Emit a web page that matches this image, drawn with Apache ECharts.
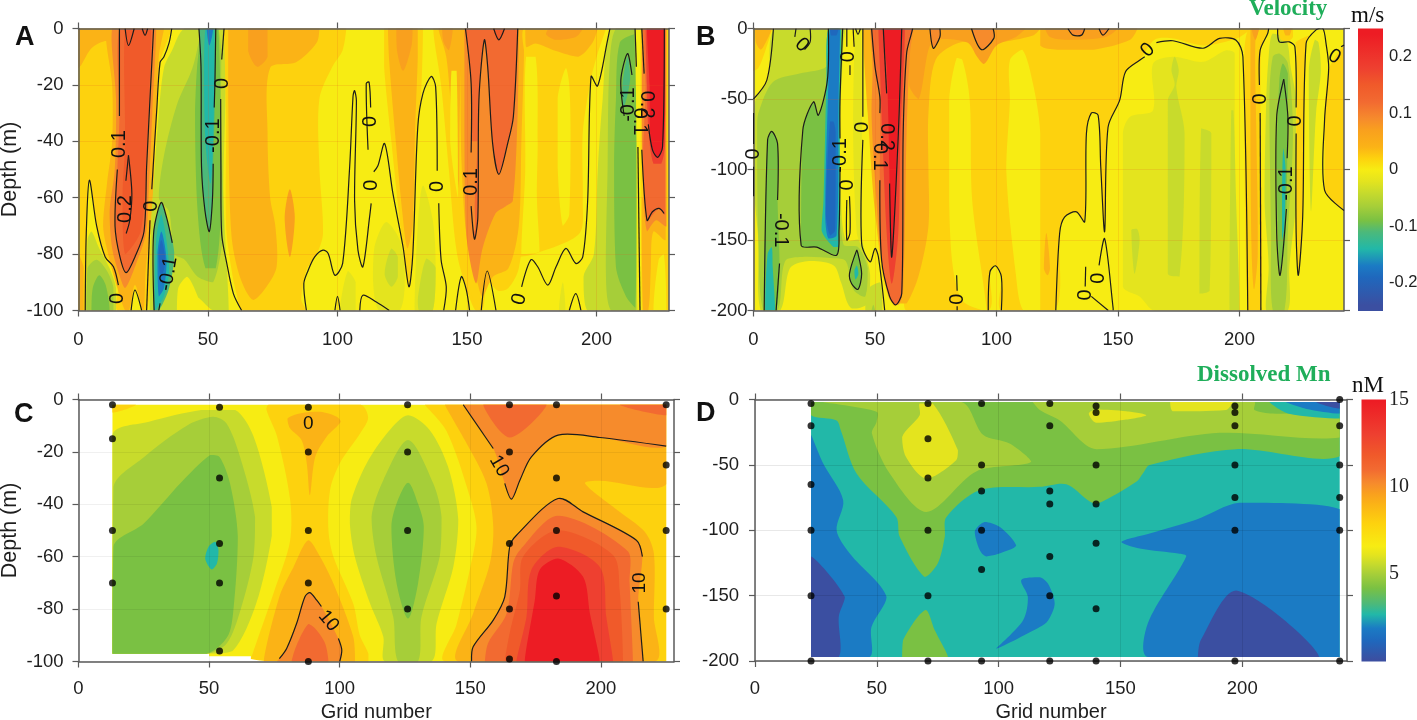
<!DOCTYPE html>
<html>
<head>
<meta charset="utf-8">
<script src="https://cdn.jsdelivr.net/npm/echarts@6/dist/echarts.min.js"></script>
<style>html,body{margin:0;padding:0;background:#fff}#main{width:1417px;height:720px}</style>
</head>
<body>
<div id="main"></div>
<script>
// shared colour ramp and the value each colour stands for
const rampColors = ['#3b4fa1','#1f68bd','#1b7bc4','#22b8a8','#4cb97a','#7ac143','#a6ce39','#c8db2c','#e4e41e','#f7ec13','#fdd20e','#fbb316','#f9a01e','#f68b2c','#f26a31','#f05a2a','#ee4030','#ed1c24'];
const velocityLevels = [-0.24,-0.19,-0.17,-0.14,-0.11,-0.09,-0.065,-0.04,-0.02,0,0.02,0.04,0.07,0.09,0.12,0.15,0.18,0.24];
const mnLevels = [0.1,1.2,1.9,2.7,3.3,4.2,5,5.6,6.1,6.6,7.9,9,9.6,10.2,11,11.8,13,14.9];

const velocityTicks = [-0.2,-0.1,0,0.1,0.2];
const mnTicks = [5,10,15];
const gridTicks = [0,50,100,150,200];

// panel A: filled bands painted in order, [level, outline in (grid number, depth)]
const panelABands = [
  [0, [[0,0],[228,0],[228,-100],[0,-100]]],
  [0.02, [[0,0],[36,0],[31.5,-12],[30,-29],[28.3,-57],[27.6,-68],[26.3,-100],[15,-100],[15.4,-91],[13.5,-84.5],[10.3,-81],[7,-70],[4.2,-53.8],[3,-72.7],[2.6,-100],[0,-100]]],
  [0, [[20.3,-100],[21.8,-92.8],[24.4,-100]]],
  [0.04, [[0,0],[15,0],[14,-5],[10,-4.5],[5,-7],[1,-13],[0,-14]]],
  [0.04, [[0,-80],[2,-85],[2,-100],[0,-100]]],
  [-0.04, [[3.5,-75],[5,-72],[8,-78],[12,-85],[14.5,-92],[14.5,-100],[3,-100]]],
  [-0.065, [[3.5,-85],[7,-82],[11,-86],[13.5,-92],[13.5,-100],[3,-100]]],
  [-0.09, [[5,-100],[5.5,-92],[8,-87.5],[10.5,-91],[12,-100]]],
  [0.04, [[11,0],[13,-20],[13,-40],[11,-55],[9.5,-70],[12,-82],[15,-92],[18,-100],[19.5,-100],[21.8,-91],[25,-100],[26,-85],[28,-70],[29,-55],[30,-30],[31,-10],[33,0]]],
  [0.09, [[13,0],[14.5,-25],[14,-50],[12,-65],[13,-78],[16,-88],[18,-92],[22,-84],[26,-73],[27,-60],[28.5,-30],[30,0]]],
  [0.12, [[15.8,0],[15.8,-31],[15,-50],[14.1,-70],[16,-81],[18.4,-86.6],[21.8,-81],[25.3,-72],[26.3,-49],[28.7,-5.3],[29,0]]],
  [0.15, [[18,0],[18,-40],[17,-60],[18,-80],[24,-72],[26,-50],[28,0]]],
  [-0.04, [[41,0],[36,-8],[33,-14],[31,-30],[29,-55],[28,-70],[27.5,-100],[40,-100],[45,-95],[52,-100],[58,-100],[57,-80],[56,-60],[56,0]]],
  [0, [[38,-100],[38.5,-92],[42,-88],[47,-97],[48,-100]]],
  [-0.065, [[47,-2],[44,-14],[38,-27],[33,-45],[31,-60],[35,-65],[37,-80],[41,-82],[46,-88],[52,-90],[56,-70],[55,-30],[54,0],[47,0]]],
  [-0.09, [[48,0],[45,-30],[46,-65],[49,-85],[53,-85],[55,-60],[54,0]]],
  [-0.11, [[46.5,0],[47.3,-13.6],[47.5,-49],[48.8,-64.4],[50.5,-72],[51.7,-61],[52,-48],[52.7,-25],[53,0]]],
  [-0.14, [[49,0],[48.5,-15],[49,-40],[51,-55],[52,-40],[52.5,-15],[52.5,0]]],
  [-0.17, [[49.5,0],[50.5,-6],[52,0]]],
  [-0.11, [[29,-100],[29,-72],[32,-62],[34,-67],[37,-80],[35,-92],[31,-100]]],
  [-0.14, [[29.5,-100],[30,-75],[32,-66],[35,-85],[33,-95]]],
  [-0.17, [[31,-95],[30.5,-80],[32,-72],[34,-82],[33,-92]]],
  [-0.19, [[31.5,-87],[31,-80],[32,-75],[33.5,-82],[32.5,-87]]],
  [0.02, [[56.2,0],[103.4,0],[102,-7.7],[98,-13.6],[93,-25],[93,-49],[94.4,-72.7],[92,-80],[88,-85.7],[86,-96],[87.4,-100],[63.5,-100],[61,-94],[59,-85],[57,-70],[57,-30]]],
  [0.04, [[57.8,0],[93,0],[92,-5],[84,-12],[74,-14],[73,-37],[74,-60],[76,-70],[76.5,-84.5],[72.6,-91.6],[67.5,-96.3],[62.3,-88],[59,-72.7],[57.8,-25]]],
  [0.07, [[65.5,0],[73,0],[73,-10],[69,-13.6],[65.5,-8]]],
  [0.07, [[81.6,-57],[83.5,-67],[81.6,-81],[79.6,-67]]],
  [0.02, [[118,0],[118,-13.6],[120.8,-40],[124.6,-72.7],[127.6,-91.6],[129,-80],[131,-35],[132.3,-23],[133,0]]],
  [0.04, [[119.5,0],[120,-12],[122.5,-40],[125,-65],[127,-78],[129,-70],[130,-35],[131,-10],[131,0]]],
  [0.07, [[122.7,0],[123,-8],[125.3,-15],[128.5,-6.5],[129,0]]],
  [-0.02, [[118.8,-68.6],[114.3,-77.4],[113.7,-89],[116,-100],[124,-100],[126,-88],[124,-75]]],
  [-0.04, [[120.8,-78],[118.2,-87],[120.8,-91.6],[123.3,-88],[123.3,-81]]],
  [-0.02, [[133,-55.7],[131,-70],[129.8,-100],[136.8,-100],[137.9,-84.5],[136.8,-68]]],
  [-0.04, [[134.3,-81.6],[131,-96],[131.5,-100],[136.8,-100],[137.9,-85]]],
  [-0.02, [[104,-86],[107,-90],[107,-100],[101,-100]]],
  [0.02, [[137,0],[148,0],[148,-50],[150,-72],[155,-92],[153.5,-100],[150,-93],[146,-79],[143,-50],[140,-20]]],
  [0.04, [[139,0],[150,0],[149,-30],[150,-60],[153,-85],[150,-75],[146,-50],[144,-30],[142,-10]]],
  [0.07, [[140.4,0],[144.5,0],[143,-7.7],[141,-5]]],
  [0, [[144,-15],[146,-15],[146.5,-60],[143.5,-40]]],
  [0.02, [[147,-60],[150,-85],[153.5,-100],[156,-100],[158,-90],[162,-93],[166,-92],[170,-85],[173,-60],[173,0],[149,0]]],
  [0.04, [[149,0],[172,0],[172,-10],[171,-40],[170,-70],[166,-85],[160,-88],[156,-95],[154,-90],[150,-75],[148,-50],[147.5,-20]]],
  [0.09, [[149,0],[149,-37],[149.7,-72.7],[153.5,-90.4],[156,-78],[161,-65.6],[165,-63],[167.7,-61],[169.6,-29],[170,0]]],
  [0.12, [[149.4,0],[151.6,-19.5],[151.6,-63],[152.9,-74.7],[154.2,-66.8],[154.6,-25.4],[156.7,-4],[158,-13.6],[159.9,-40.8],[162.3,-51.7],[165.7,-40.8],[167.9,-31.3],[169.6,0]]],
  [0.09, [[154,-40],[153,-62],[153,-72],[150.5,-65],[150.5,-40]]],
  [0.15, [[160.3,0],[162.3,-4],[164.5,0]]],
  [0.02, [[172,0],[203.6,0],[200.4,-9],[197.9,-17.7],[194.7,-37],[194.7,-61],[193.4,-72.7],[176.6,-79.8],[170.2,-81],[172,-61],[172.8,-13.6]]],
  [0, [[172.8,-10],[176.5,-10],[177.3,-40],[177,-60],[178,-79],[171,-80],[172.5,-50]]],
  [0, [[188.2,-14],[185,-25],[185,-49],[187,-70],[189.5,-66],[190,-37],[189.5,-20]]],
  [0.04, [[172.5,0],[200.4,0],[198.5,-5],[193,-10],[184.4,-8],[176.5,-5.3],[172.8,-6.5]]],
  [0.07, [[181.8,0],[194.7,0],[192,-3],[184.4,-4],[180.5,-2]]],
  [-0.02, [[187,-90],[185.5,-100],[188,-100]]],
  [-0.04, [[205.6,0],[202.4,-25],[200.5,-50],[199,-80],[195,-88],[196.6,-100],[216.5,-100],[216.5,-60],[215,-20],[215,0]]],
  [-0.065, [[207.5,0],[205,-13.6],[204.3,-49],[203.6,-84.5],[205.6,-100],[215.2,-100],[215.6,-39],[214.9,0]]],
  [-0.09, [[209,-5],[207.5,-25.4],[206.8,-49],[207.5,-84.5],[211.4,-95],[215,-99],[215.5,-61],[214.6,-2]]],
  [-0.11, [[212,-10],[213,-18],[210.5,-28],[210,-20]]],
  [0, [[215,0],[217.5,0],[217,-100],[215.8,-100],[215.5,-40]]],
  [0.02, [[217,0],[228,0],[228,-100],[217.5,-100]]],
  [0.04, [[217.5,-60],[226.7,-60],[226.7,-75],[222,-72],[221,-85],[220,-100],[218,-100]]],
  [0, [[222,-100],[224,-82],[226,-80],[227,-100]]],
  [0.09, [[217.5,0],[217.5,-30],[217.8,-50],[219.5,-72],[223,-68],[227,-70],[227,0]]],
  [0.12, [[218,0],[219,-20],[218,-45],[220,-68],[224,-64],[226.5,-66],[226.5,0]]],
  [0.18, [[219,0],[219.5,-20],[220,-35],[222,-48],[225,-48],[226.5,-40],[226.5,0]]],
  [0.24, [[219.5,0],[220.5,-20],[221,-40],[223.6,-45.7],[225.5,-42],[226.5,-30],[226.5,0]]]
];
const panelAContours = [
  [[2.6,-100],[3,-72.7],[4.2,-53.8],[7,-70],[10.3,-81],[13.5,-84.5],[15.4,-91]],
  [[20.3,-100],[21.8,-92.8],[24.4,-100]],
  [[36,0],[35,-5],[33,-10],[31.5,-12],[30.2,-29],[28.3,-57]],
  [[27.6,-68],[26.3,-100]],
  [[15.8,0],[15.8,-31]],
  [[15,-50],[14.1,-70],[16,-81],[18.4,-86.6],[21.8,-81],[25.3,-72],[26.3,-49],[28.7,-5.3],[29,0]],
  [[19.3,-45],[18.3,-54]],
  [[18.4,-72.7],[19.8,-68],[20.6,-58.5],[19.3,-45]],
  [[18,0],[19.3,-6],[21.5,0]],
  [[24.6,0],[25.7,-2.4],[26.7,0]],
  [[46.5,0],[47.3,-13.6],[47.5,-49],[48.8,-64.4],[50.5,-72],[51.7,-61],[52,-48]],
  [[52.4,-28],[52.7,-18],[53,0]],
  [[56.2,0],[55.3,-11]],
  [[54.9,-25],[55,-50],[55.3,-73],[57.2,-83],[59.8,-94],[63,-100]],
  [[29.2,-100],[29,-72.7],[31.9,-61.7],[34,-67],[36.2,-76]],
  [[31.5,-97.5],[31,-100]],
  [[88,-100],[87,-90.4],[88.7,-85.7],[91.2,-81],[94.4,-78.6],[96.4,-79.8],[99,-87.5],[102,-83.3],[104.7,-49],[106,-24],[106.6,-22],[107.3,-25.6],[106.6,-61],[107.9,-78.6],[109.8,-84.5],[112.4,-66.8],[113,-62]],
  [[111.8,-43],[111.1,-19.5],[112.2,-19],[112.8,-28]],
  [[99,-100],[100,-95],[101,-100]],
  [[114,-50.8],[115.6,-48.7],[118.2,-40.8],[121.4,-58.5],[125.3,-77.4],[127.6,-91.6],[129.1,-79.8],[131,-34.9],[133,-23],[136.2,-17],[137.9,-20.7],[138.5,-50.4]],
  [[139.1,-62],[140,-82],[142,-91.6],[141,-100]],
  [[108.6,-100],[109.8,-94.6],[115,-97],[120,-100]],
  [[145.6,-100],[147.8,-88],[149.7,-92.5],[151,-100]],
  [[155.5,-100],[157.8,-86],[161.2,-100]],
  [[149.4,0],[151.6,-19.5],[151.6,-44]],
  [[151.6,-63],[152.9,-74.7],[154.2,-66.8],[154.6,-25.4],[156.7,-4],[158,-13.6],[159.9,-40.8],[162.3,-51.7],[165.7,-40.8],[167.9,-31.3],[169.6,0]],
  [[160.3,0],[162.3,-4],[164.5,0]],
  [[171.1,-91.6],[174.7,-82],[177.3,-84.5],[181.2,-91],[184.4,-84.5],[188.2,-78],[192,-83.3],[194.7,-81],[196.6,-61],[197.9,-17],[200.4,-20.4],[204.3,-4],[205.2,0]],
  [[189.5,-100],[192,-94],[194,-100]],
  [[213.7,-16.5],[212,-8.9],[209.4,-18.3],[210.7,-31]],
  [[214.9,0],[215.4,-13.6]],
  [[216,-42],[216.8,-100]],
  [[217.5,0],[218.4,-16]],
  [[217.5,-43],[219.5,-68],[221.6,-65],[224.2,-63.8],[226.1,-65.6]],
  [[220,-34],[221.6,-43],[223.6,-45.7],[225.5,-42],[226.2,0]]
];
const panelALabels = [
  [15.1,-95.7,'0',90],[28.3,-63,'0',90],[16,-41,'0.1',90],[18,-64,'0.2',90],[34.7,-87,'-0.1',80],
  [52,-38,'-0.1',90],[55.5,-19.5,'0',90],[112.7,-33,'0',90],[113.3,-55.6,'0',90],[138.8,-56,'0',90],
  [151.6,-54.4,'0.1',90],[170.2,-96,'0',75],[212.5,-27,'-0.1',90],[219.5,-27,'0.2',-90],[216.5,-33,'0.1',-90]
];

// panel B
const panelBBands = [
  [0, [[0,0],[243,0],[243,-200],[0,-200]]],
  [0.02, [[0,0],[7.5,0],[5,-15],[2,-28],[0,-30]]],
  [0.04, [[0.7,0],[7.5,0],[5,-10],[3,-15],[1,-10]]],
  [-0.04, [[9,0],[6,-36],[1,-50],[0,-60],[0,-110],[2,-150],[3,-200],[11,-200],[15,-170],[22,-165],[33,-168],[36,-180],[40,-198],[47,-195],[48,-175],[46,-160],[44,-150],[38,-150],[36,-120],[35.5,-70],[36.5,-30],[37,-10],[37,0]]],
  [-0.065, [[2,-60],[8,-38],[19,-32],[30,-27],[31,-10],[33,0],[35,0],[35,-30],[35.5,-100],[37,-153],[43,-155],[47,-170],[46,-190],[41,-185],[38,-165],[33,-163],[20,-162],[13,-165],[10,-200],[4,-200],[2,-150],[1.5,-70]]],
  [-0.09, [[4.4,-200],[5.8,-79],[7.5,-73],[9.9,-81.6],[9.9,-121.7],[10.7,-166.7],[9.3,-200]]],
  [-0.14, [[5.8,-160],[4.8,-200],[8.9,-200],[7.9,-169],[7.5,-155]]],
  [-0.09, [[30.8,0],[30.4,-36.6],[26.7,-61.5],[24.7,-52],[20.3,-72],[19.6,-153.7],[26,-155],[34.2,-160.8],[35.2,-143],[35.6,-51],[36.7,0]]],
  [-0.14, [[30.8,0],[30,-36.6],[28.8,-121.7],[28,-143],[32.9,-155],[35,-155],[35.6,-51],[36,0]]],
  [-0.17, [[31.5,0],[30.8,-39],[29.5,-131],[30.8,-149],[34.2,-146.6],[35,-50.8],[35.6,0]]],
  [-0.19, [[31.5,-66],[29.8,-131],[31.5,-146.6],[33.6,-143],[33.8,-74.5],[32.9,-66]]],
  [-0.19, [[31.5,0],[35,0],[34,-5],[32,-5]]],
  [-0.02, [[42,0],[41,-74],[42.5,-145],[44.6,-155],[44.6,-51],[44,0]]],
  [-0.09, [[42.5,-157],[39.5,-173.8],[40.4,-181],[43,-185],[44.5,-174],[43,-159.6]]],
  [-0.14, [[41.5,-172],[42.5,-168],[43.2,-174],[42,-178]]],
  [-0.04, [[47,-185],[52,-180],[53,-200],[46,-200]]],
  [-0.065, [[48.6,-200],[49.3,-196],[50,-200]]],
  [0.02, [[45,0],[205,0],[199,-7],[185,-12],[172,-7],[165,-8],[159,-22],[153,-31],[151,-50],[146,-70],[144.5,-144],[143,-98],[142,-61],[139,-60],[137,-75],[136,-137],[133,-130],[128,-134],[126,-145],[124,-200],[102,-200],[102,-176],[99.6,-168],[97.3,-172],[96.6,-200],[63,-200],[61.6,-188],[58,-197],[53,-175],[50,-120],[47,-50]]],
  [0, [[83.6,-21],[80.5,-51],[80.5,-122],[82,-169],[86,-193],[94.6,-200],[96,-200],[90,-122],[89,-51],[86,-22.5]]],
  [0, [[105.5,-22.5],[105.5,-51],[104,-100],[108,-175],[111,-200],[118,-200],[118,-74.5],[115,-39],[110.6,-15]]],
  [0.04, [[64,0],[118,0],[115,-5],[100,-10],[85,-10],[75,-22],[72,-60],[72,-100],[72,-140],[68,-175],[63,-195],[60,-195],[55,-185],[50,-130],[47,-60],[45,0]]],
  [0.07, [[65,0],[112,0],[108,-6],[100,-12],[95,-25],[92,-20],[88,-10],[75,-8],[72,-15],[68,-50],[64,-40]]],
  [0.04, [[118,0],[158,0],[155,-8],[140,-15],[125,-15],[118,-12]]],
  [0.07, [[120,0],[150,0],[145,-6],[130,-8],[122,-6]]],
  [0.04, [[120.5,-145],[122,-170],[121,-175],[119.5,-170]]],
  [0.09, [[72.6,0],[74,-14],[76.7,-6],[76.7,0]]],
  [0.09, [[89.7,0],[93.8,-15],[98.9,-7],[98.6,0]]],
  [0.09, [[129.4,0],[131.5,-4.7],[135,-4.7],[136.3,0]]],
  [0.09, [[142.2,0],[143.8,-4.7],[146.3,0]]],
  [0.09, [[48,0],[49,-27],[48.6,-62.6],[50.5,-120],[52.7,-164],[56,-192],[59.6,-196],[61.6,-185],[63,-74],[64.4,-17.7],[65.8,0]]],
  [0.12, [[48.6,0],[50,-27],[52,-48.5],[52,-107.6],[52.7,-164],[56,-190],[58.5,-196],[61,-188],[61.6,-74.5],[63,-17.7],[65,-3.5],[65.5,0]]],
  [0.18, [[51.4,0],[52,-27],[53,-74],[54.8,-145],[56.9,-181],[59.6,-145],[60.5,-74],[62.3,0]]],
  [0.24, [[53.4,0],[54.8,-27],[55.5,-65],[56.9,-163],[59.3,-74.5],[60.7,0]]],
  [-0.02, [[152,-74.5],[155,-62.6],[164.4,-58],[164.4,-25],[172.6,-20],[185,-23.6],[194.5,-15.4],[198,-17.7],[198,-100],[197,-200],[165,-200],[158.9,-190],[152,-183]]],
  [-0.04, [[173.3,-20],[172,-29.5],[173.3,-40],[170.5,-51],[170.5,-174],[175.3,-176],[177.4,-74.5],[174,-42],[175,-29.5]]],
  [-0.04, [[184.2,-71],[183.5,-188],[187.7,-185.6],[188.4,-74.5]]],
  [-0.04, [[155.5,-143],[156.8,-174],[158.9,-150],[157.8,-142]]],
  [-0.04, [[196.6,-58],[195.9,-200],[200,-200],[198.6,-122],[197.5,-58]]],
  [0.02, [[204,0],[212,0],[208.8,-15],[208.8,-200],[203.4,-200],[202,-20]]],
  [0.04, [[204.5,0],[208,0],[206.5,-10],[207,-80],[207.5,-160],[206,-185],[205,-160],[204.5,-80]]],
  [0.07, [[205,0],[208,0],[206.5,-8]]],
  [-0.04, [[212,-20],[211,-51],[210.3,-122],[212,-169],[211,-200],[219.9,-200],[220.5,-169],[223.3,-122],[223.3,-51],[221,-27],[219.2,-8],[213.7,-3.5]]],
  [-0.065, [[213.7,-20],[212.3,-51],[213,-145],[213.7,-200],[218.5,-200],[219.9,-145],[222,-74.5],[219.9,-24.8],[216.4,-17.7]]],
  [-0.09, [[217.8,-24.8],[216.4,-36.6],[215.3,-98],[216.7,-175],[219,-145],[219.9,-51],[219.9,-32]]],
  [-0.14, [[218,-85],[217.5,-120],[217.5,-150],[218.5,-140],[219,-100]]],
  [0.02, [[223.5,-15],[223.3,-145],[224.2,-175],[226,-133.6],[227.4,-10.6],[229,-5],[223,-10]]],
  [0.02, [[216,0],[222,0],[222,-6],[220,-9],[217,-8]]],
  [0.04, [[218,0],[221.5,0],[220.5,-5],[219,-5]]],
  [-0.04, [[231,-8],[228.5,-30],[229.5,-130],[231.5,-60],[233.5,-30],[232.5,-10]]],
  [0.02, [[235,-65],[235,-114.6],[243,-129],[243,-12],[237,-28]]]
];
const panelBContours = [
  [[0,-50],[5.5,-36.6],[8.2,0]],
  [[0,-60],[0,-82]],
  [[0,-98],[0,-119]],
  [[4.4,-200],[5.8,-79],[7.5,-73],[9.9,-81.6],[9.9,-121.7]],
  [[10.7,-166.7],[9.3,-200]],
  [[17.5,0],[17,-5.9]],
  [[23.3,0],[23.3,-9.5],[21,-15]],
  [[30.8,0],[30.4,-36.6],[26.7,-61.5],[24.7,-52],[20.3,-72],[19.6,-153.7],[26,-155],[34.2,-160.8],[35.2,-143],[35.6,-100]],
  [[35.6,-78],[35.6,-51],[36.7,0]],
  [[38.4,0],[38.4,-13]],
  [[39.7,-26],[39.7,-33]],
  [[41,0],[41.4,-13]],
  [[38.4,-121.7],[38.4,-150],[39.7,-145],[39.5,-119]],
  [[42,0],[43,-4],[44,0]],
  [[45,0],[45,-62.6]],
  [[45,-79],[44.5,-152.5],[48,-165.5],[50,-156],[51.4,-162],[54,-200]],
  [[42.5,-157],[39.5,-173.8],[40.4,-181],[43,-185],[44.5,-174],[43,-159.6],[42.5,-157]],
  [[48.6,0],[50,-27],[52,-48.5],[52,-60]],
  [[52,-107.6],[52.7,-164],[56,-190],[58.5,-196],[61,-188],[61.6,-74.5],[63,-17.7],[65,-3.5],[65.5,0]],
  [[53.4,0],[54.8,-46]],
  [[56,-110],[56.9,-162],[59.6,-74.5],[61,0]],
  [[72.6,0],[74,-14],[76.7,-6],[76.7,0]],
  [[89.7,0],[93.8,-15],[98.9,-7],[98.6,0]],
  [[83.6,-175],[83.8,-186]],
  [[83.8,-197],[83.8,-200]],
  [[96.6,-200],[97.3,-172.6],[99.6,-168.3],[102,-176],[102,-200]],
  [[124.4,-200],[126,-145],[128,-133.7],[132.9,-130],[136.3,-137],[137,-74.5],[139,-60],[141.8,-61.5],[142.9,-98],[144.5,-144],[145.9,-70],[150.7,-50.8],[153.1,-30.7],[158.9,-22.5],[161,-20]],
  [[165.8,-10],[172.6,-8.7],[185,-14],[191.8,-7],[198.6,-8.3],[201.4,-20],[203.4,-200]],
  [[129.4,0],[131.5,-4.7],[135,-4.7],[136.3,0]],
  [[142.2,0],[143.8,-4.7],[146.3,0]],
  [[136.7,-169],[136.5,-183]],
  [[142.2,-168],[144.5,-149],[148,-198.5],[148,-200]],
  [[139,-190],[146,-200]],
  [[208.8,-200],[208.5,-60]],
  [[208.2,-40],[208.5,-15.4],[211.6,-3.5],[212,0]],
  [[218.2,-36],[215.3,-62.6],[215.3,-145],[216.7,-175],[219.3,-128]],
  [[219.6,-92],[219.9,-62.6],[218.2,-36]],
  [[215.7,0],[216.4,-9.5],[220.5,-9.5],[222.8,-13],[223.3,-56]],
  [[223.3,-74.5],[223.3,-145],[224.2,-175],[226,-133.6],[227.4,-10.6],[231.5,-1],[234.3,0],[235.6,-10.6],[236.7,-28],[235,-65],[235,-114.6],[243,-129]],
  [[241.8,-13],[243,-11.8]]
];
const panelBLabels = [
  [19.9,-11.8,'0',-45],[39,-20,'0',90],[45,-70,'0',90],[0,-89,'0',90],[38.8,-111,'0',90],[35.6,-90,'-0.1',90],
  [11,-143,'-0.1',-90],[54.8,-77,'0.2',-90],[52,-91,'0.1',-90],[83.8,-192,'0',90],[162.3,-15.4,'0',45],
  [208.5,-50,'0',90],[222.9,-65.5,'0',90],[219.5,-110,'-0.1',90],[239,-20,'0',-30],[141.8,-177,'0',90],[136.6,-189,'0',90]
];

// panel C
const panelCBands = [
  [6.6, [[13,-2],[225,-2],[225,-100],[82,-100],[82,-99],[66,-99],[66,-98],[50,-98],[50,-97],[13,-97]]],
  [7.9, [[13,-2],[22,-2],[13,-5]]],
  [5.6, [[13,-13.6],[27,-8.5],[47,-4],[60,-4],[67,-14],[74,-41],[74,-52],[68,-78],[59,-96],[49,-97],[13,-97]]],
  [5, [[13.4,-33.4],[25,-22],[41.6,-9.9],[51.6,-6.6],[56.7,-9.2],[61.9,-22],[67.6,-44.8],[67,-60],[62,-80.4],[56.8,-93],[49,-97],[13,-97]]],
  [4.2, [[13.4,-56],[25,-47.3],[39,-32],[50.4,-21.2],[54,-21.9],[58,-32],[61,-52.4],[59.3,-80.4],[57,-90.6],[49,-97],[13,-97]]],
  [2.7, [[52.3,-54.3],[53.6,-57.5],[53,-62.6],[51,-64.9],[48.5,-60.7],[49.8,-56.2]]],
  [7.9, [[72.8,-2],[72,-4],[76,-14],[81,-38],[81,-54],[75,-73],[67,-96],[66,-99],[82,-100],[111,-100],[111,-97],[107.7,-90],[105.2,-78],[97.6,-60],[95.7,-50],[96.3,-34.6],[100,-24.4],[107.8,-13],[110.9,-7],[108,-2]]],
  [9, [[80,-7.3],[84.8,-5.3],[92.5,-4.7],[98.9,-6.6],[100.4,-8.5],[95,-14.2],[90.6,-22],[88.6,-36.5],[87.4,-24.4],[85.4,-15.5],[81,-11]]],
  [9, [[88,-53.7],[82.3,-64],[77,-75],[71,-100],[105.9,-100],[105.2,-90.6],[97.6,-70.2],[92.5,-60]]],
  [10.2, [[76,-100],[79.7,-95],[83.5,-85.5],[86.7,-75.3],[88.6,-73.7],[93,-79],[99.5,-91.2],[100.8,-95.6],[100,-100]]],
  [11, [[88,-85.7],[83.5,-93.8],[81.6,-100],[95.7,-100],[94.4,-93],[90.6,-87.4]]],
  [7.9, [[132.6,-2],[140.9,-12],[149.2,-35],[152.4,-49],[149.8,-65],[144.7,-86],[140.3,-100],[225,-100],[225,-2]]],
  [9, [[140.3,-2],[147.9,-15.5],[156.2,-32],[158.8,-48.6],[157.5,-62.6],[151.1,-81.7],[145.4,-100],[220.7,-100],[220.3,-83],[220.3,-58.8],[216.8,-50.5],[206,-42],[193.9,-32],[199.6,-31],[225,-32.3],[225,-2]]],
  [10.2, [[147.3,-2],[158.8,-18.7],[163.2,-32],[165.8,-38],[169,-30.8],[173.4,-21.9],[183.6,-13.6],[199.6,-14.5],[225,-17.8],[225,-2]]],
  [11, [[155,-2],[165.1,-14.5],[179.2,-2]]],
  [11, [[207.3,-2],[225,-6],[225,-2]]],
  [10.2, [[150.5,-100],[151.1,-94.4],[158.8,-84.2],[163.2,-75.3],[165.1,-56.2],[167.7,-51.8],[183.6,-37.8],[193.2,-42.9],[213.6,-53.7],[215.9,-58.8],[214.3,-77.2],[216.2,-100]]],
  [11, [[155.6,-100],[156.8,-93],[163.9,-81.7],[166.4,-62.6],[169,-57.5],[183.6,-44.4],[210.4,-58],[211,-70],[212.3,-100]]],
  [11.8, [[163.2,-100],[165.1,-89],[169,-72.8],[170.2,-60],[183.6,-49.9],[204.7,-59.4],[207.2,-72.8],[208.5,-100]]],
  [13, [[167.7,-100],[171.5,-83],[173.4,-65],[183.6,-56.2],[199.6,-63.9],[202.1,-83],[204.7,-100]]],
  [14.9, [[170.9,-100],[174.7,-76.6],[176.6,-65],[183.6,-60.7],[193.2,-67.7],[195.8,-81.7],[199.6,-100]]],
  [5.6, [[126.2,-6],[118.6,-12.3],[110.3,-24.4],[104.5,-38.4],[103.9,-47.3],[105.8,-60],[111.6,-77.8],[116.7,-90.6],[117.3,-100],[135.2,-100],[137.1,-85.5],[143.5,-63.9],[145.4,-46],[141.5,-25.7],[134.5,-11.7]]],
  [5, [[126.2,-15.5],[116.7,-30.8],[112.2,-44.8],[114.1,-60],[120.5,-83],[122.4,-100],[130,-100],[131.3,-83],[138.3,-60],[139,-44.8],[135.8,-32]]],
  [4.2, [[126.2,-31.8],[121.8,-39.7],[119.8,-48.6],[121.8,-70.2],[126.2,-83.6],[130,-70.2],[132.2,-48.6],[130,-39.7]]]
];
const panelCContours = [
  [[76.9,-98.9],[79.7,-95],[83.5,-85.5],[86.7,-75.3],[88.6,-73.7],[91.2,-76.6],[93,-79]],
  [[99.5,-91.2],[100.8,-95.6],[100,-100]],
  [[147.3,-2],[158.8,-18.7]],
  [[163.2,-32],[165.8,-38],[169,-30.8],[173.4,-21.9],[183.6,-13.6],[199.6,-14.5],[225,-17.8]],
  [[150.5,-100],[151.1,-94.4],[158.8,-84.2],[163.2,-75.3],[165.1,-56.2],[167.7,-51.8],[183.6,-37.8],[193.2,-42.9],[213.6,-53.7],[215.9,-60]],
  [[214.3,-77.2],[216.2,-100]]
];
const panelCLabels = [[88,-9.3,'0',0],[95.7,-84.5,'10',-50],[161,-25.4,'10',-60],[215,-70,'10',90]];
const panelCStations = [
  [13,-2],[13,-15],[13,-50],[13,-70],
  [54,-3],[54,-30],[54,-55],[54,-70],[54,-96],
  [88,-3],[88,-20],[88,-50],[88,-70],[88,-100],
  [126,-2],[126,-20],[126,-50],[126,-80],
  [165,-2],[165,-20],[165,-55],[165,-80],[165,-99],
  [183,-2],[183,-30],[183,-50],[183,-75],[183,-100],
  [225,-2],[225,-25],[225,-50],[225,-80]
];

// panel D
const panelDBands = [
  [2.7, [[23,-2],[240,-2],[240,-197],[23,-197]]],
  [1.9, [[23,-27],[28,-49],[36.2,-77],[33.5,-100],[39,-118],[54,-151],[47.8,-174],[47,-197],[23,-197]]],
  [0.1, [[23,-120],[36.9,-151],[34.4,-166],[34.4,-197],[23,-197]]],
  [1.9, [[94.3,-93.6],[100.4,-97.4],[107.2,-111.4],[104.5,-115],[94.9,-120],[92.2,-115],[90.2,-101]]],
  [1.9, [[109.3,-138],[116.8,-136],[120.3,-141],[123,-156],[120.3,-169],[116.9,-174],[99,-190.5],[110,-169],[112,-151]]],
  [1.9, [[150.4,-109],[162,-102.5],[181,-92],[198.9,-79],[240,-84],[240,-197],[161.3,-197],[161.3,-171],[177,-120],[174.3,-118],[157.9,-114]]],
  [0.1, [[197.5,-146],[231.6,-197],[181.8,-197],[183,-184]]],
  [4.2, [[23,-12],[33.5,-16],[35.2,-23.5],[41.7,-56.6],[58,-89.8],[59.4,-105],[69.7,-135.7],[75,-125.5],[77.9,-105],[78.5,-90],[92.2,-69.4],[116.9,-66.8],[127.8,-64.8],[137.4,-78],[140.8,-79.6],[156.5,-63],[159.2,-56.6],[162,-50],[197.5,-38],[240,-43.4],[240,-2],[23,-2]]],
  [4.2, [[70,-161],[60.8,-184],[60.4,-197],[79.2,-197],[73.8,-176.5]]],
  [5, [[28,-2],[49.9,-9.4],[49.9,-17],[48,-26],[55.3,-56.6],[70.3,-86],[90.8,-55],[113.4,-47.7],[104.5,-33.7],[93.6,-27],[84.7,-2]]],
  [5, [[114,-2],[116.9,-8],[125.1,-16],[140.1,-38],[190.7,-25.5],[240,-29],[240,-12],[212.5,-10.7],[205,-8],[205,-2]]],
  [2.7, [[211.2,-2],[218.7,-10.7],[240,-14.5],[240,-2]]],
  [1.9, [[218,-2],[226,-7],[240,-10.7],[240,-2]]],
  [0.1, [[230.3,-2],[240,-7],[240,-2]]],
  [6.1, [[67.6,-3],[73,-3],[83.3,-38.8],[82.6,-46.4],[70.3,-60.4],[62,-43.9],[60.4,-28.6],[67.6,-12]]],
  [6.1, [[137,-10.7],[140,-7.6],[152.4,-9],[160.6,-12],[152.4,-15.3],[140,-17.8]]],
  [6.1, [[170.4,-2],[196.1,-2],[193.4,-8],[171.5,-9]]]
];
const panelDStations = [
  [23,-3],[23,-20],[23,-65],[23,-100],[23,-150],[23,-200],
  [71,-3],[71,-30],[71,-60],[71,-100],[71,-150],[71,-200],
  [93,-3],[93,-50],[93,-70],[93,-100],[93,-130],[93,-200],
  [121,-3],[121,-20],[121,-70],[121,-80],[121,-120],[121,-150],[121,-200],
  [140,-5],[140,-10],[140,-50],[140,-80],[140,-110],[140,-160],[140,-200],
  [197,-5],[197,-10],[197,-20],[197,-50],[197,-75],[197,-100],[197,-200],
  [240,0],[240,-20],[240,-50],[240,-75],[240,-100],[240,-200]
];

const sans = 'Liberation Sans';
const serif = 'Liberation Serif';
const axisColor = '#5a5a5a';
const textColor = '#1e1e1e';

function colorFor(value, levels) {
  let best = 0;
  levels.forEach((l, i) => {
    if (Math.abs(l - value) < Math.abs(levels[best] - value)) best = i;
  });
  return rampColors[best];
}

// keeps the smoothed outline inside the bounding box of its own vertices
function boxOf(points) {
  const xs = points.map((p) => p[0]);
  const ys = points.map((p) => p[1]);
  return [[Math.min(...xs), Math.min(...ys)], [Math.max(...xs), Math.max(...ys)]];
}

function bandSeries(index, bands, levels) {
  return {
    type: 'custom', xAxisIndex: index * 2, yAxisIndex: index * 2, clip: true, z: 2, silent: true,
    data: bands.map((b, i) => [i, 0]),
    renderItem: (params, api) => {
      const band = bands[params.dataIndex];
      const points = band[1].map((p) => api.coord(p));
      return {
        type: 'polygon',
        shape: {
          points,
          smooth: params.dataIndex === 0 ? 0 : 0.3,
          smoothConstraint: boxOf(points)
        },
        style: { fill: colorFor(band[0], levels) }
      };
    }
  };
}

function contourSeries(index, lines) {
  return {
    type: 'custom', xAxisIndex: index * 2, yAxisIndex: index * 2, clip: true, z: 4, silent: true,
    data: lines.map((l, i) => [i, 0]),
    renderItem: (params, api) => ({
      type: 'polyline',
      shape: { points: lines[params.dataIndex].map((p) => api.coord(p)), smooth: 0.3 },
      style: { fill: 'none', stroke: '#1c1c1c', lineWidth: 1.2 }
    })
  };
}

function labelSeries(index, labels, size) {
  return {
    type: 'custom', xAxisIndex: index * 2, yAxisIndex: index * 2, clip: false, z: 6, silent: true,
    data: labels.map((l, i) => [i, 0]),
    renderItem: (params, api) => {
      const l = labels[params.dataIndex];
      const pt = api.coord([l[0], l[1]]);
      return {
        type: 'text', x: pt[0], y: pt[1], rotation: l[3] * Math.PI / 180,
        style: { text: l[2], fontFamily: sans, fontSize: size, fill: '#111', align: 'center', verticalAlign: 'middle' }
      };
    }
  };
}

function stationSeries(index, stations) {
  return {
    type: 'scatter', xAxisIndex: index * 2, yAxisIndex: index * 2, z: 5, silent: true, clip: false,
    symbolSize: 7, itemStyle: { color: '#000' }, data: stations
  };
}

function colorbarSeries(axisIndex, levels, lo, hi) {
  const stops = levels.map((l, i) => ({ offset: (hi - l) / (hi - lo), color: rampColors[i] })).reverse();
  return {
    type: 'custom', xAxisIndex: axisIndex, yAxisIndex: axisIndex, z: 2, silent: true,
    data: [[0, lo]],
    renderItem: (params, api) => {
      const a = api.coord([0, hi]);
      const b = api.coord([1, lo]);
      return {
        type: 'rect',
        shape: { x: a[0], y: a[1], width: b[0] - a[0], height: b[1] - a[1] },
        style: { fill: new echarts.graphic.LinearGradient(0, 0, 0, 1, stops) }
      };
    }
  };
}

// outerBoundsMode off: labels may not push the plot areas around
const grids = [
  { left: 78.5, top: 28.5, width: 590.5, height: 282, outerBoundsMode: 'none' },
  { left: 753.5, top: 28.5, width: 590.5, height: 282, outerBoundsMode: 'none' },
  { left: 78.5, top: 399.5, width: 595.5, height: 262, outerBoundsMode: 'none' },
  { left: 755, top: 399.5, width: 592, height: 261.5, outerBoundsMode: 'none' },
  { left: 1358, top: 28.5, width: 25, height: 282.5, outerBoundsMode: 'none' },
  { left: 1361.5, top: 399.5, width: 24.5, height: 262, outerBoundsMode: 'none' }
];

const xAxes = [];
const yAxes = [];
function addPanel(g, xMax, yMin, yStep, yMargin, xMargin, showXName, showYName, splitColor) {
  const line = { show: true, onZero: false, lineStyle: { color: axisColor, width: 1.5 } };
  const tick = { show: true, length: 6, lineStyle: { color: axisColor, width: 1.2 } };
  const split = { show: true, lineStyle: { color: splitColor, width: 1 } };
  const xBase = { type: 'value', gridIndex: g, min: 0, max: xMax, z: 3, axisLine: line };
  const yBase = { type: 'value', gridIndex: g, min: yMin, max: 0, interval: yStep, z: 3, axisLine: line };
  xAxes.push(Object.assign({}, xBase, {
    position: 'bottom',
    axisTick: Object.assign({}, tick, { customValues: gridTicks }),
    splitLine: split,
    axisLabel: { customValues: gridTicks, color: textColor, fontFamily: sans, fontSize: 18.5, margin: xMargin },
    name: showXName ? 'Grid number' : '', nameLocation: 'middle', nameGap: 41,
    nameTextStyle: { color: textColor, fontFamily: sans, fontSize: 20 }
  }));
  xAxes.push(Object.assign({}, xBase, {
    position: 'top',
    axisTick: Object.assign({}, tick, { customValues: gridTicks }),
    splitLine: { show: false }, axisLabel: { show: false }
  }));
  yAxes.push(Object.assign({}, yBase, {
    position: 'left',
    axisTick: tick, splitLine: split,
    axisLabel: { color: textColor, fontFamily: sans, fontSize: 18.5, margin: yMargin, padding: [4, 0, 0, 0] },
    name: showYName ? 'Depth (m)' : '', nameLocation: 'middle', nameRotate: 90, nameGap: 57,
    nameTextStyle: { color: textColor, fontFamily: sans, fontSize: 21.5 }
  }));
  yAxes.push(Object.assign({}, yBase, {
    position: 'right', axisTick: tick, splitLine: { show: false }, axisLabel: { show: false }
  }));
}
addPanel(0, 228, -100, 20, 15, 20, false, true, 'rgba(230,90,30,0.16)');
addPanel(1, 243, -200, 50, 6, 20, false, false, 'rgba(230,90,30,0.16)');
addPanel(2, 228, -100, 20, 15, 18, true, true, 'rgba(0,0,0,0.06)');
addPanel(3, 243, -200, 50, 16, 18, true, false, 'rgba(0,0,0,0.09)');

// colour bars: axis indices 8 and 9
function addColorbar(g, lo, hi, ticks, font, size, digits, margin) {
  xAxes.push({ type: 'value', gridIndex: g, min: 0, max: 1, show: false });
  yAxes.push({
    type: 'value', gridIndex: g, min: lo, max: hi, position: 'right',
    axisLine: { show: false }, splitLine: { show: false },
    axisTick: { show: false, customValues: ticks },
    axisLabel: {
      customValues: ticks, fontFamily: font, fontSize: size, color: '#222', margin,
      formatter: (v) => (digits ? (v === 0 ? '0' : v.toFixed(digits)) : String(v))
    }
  });
}
addColorbar(4, -0.25, 0.25, velocityTicks, sans, 16.5, 1, 6);
addColorbar(5, 0, 15, mnTicks, serif, 20, 0, 3);

const panelTitle = (text, left, top) => ({
  text, left, top, padding: 0,
  textStyle: { fontFamily: sans, fontWeight: 'bold', fontSize: 27, color: '#111' }
});
const serifTitle = (text, left, top, color, weight) => ({
  text, left, top, padding: 0,
  textStyle: { fontFamily: serif, fontWeight: weight, fontSize: 23, color }
});

const chart = echarts.init(document.getElementById('main'), null, { renderer: 'canvas' });
chart.setOption({
  animation: false,
  backgroundColor: '#fff',
  title: [
    panelTitle('A', 15, 24), panelTitle('B', 696, 24), panelTitle('C', 14, 401), panelTitle('D', 696, 400),
    serifTitle('Velocity', 1249, -2, '#1fae5a', 'bold'),
    serifTitle('m/s', 1351, 4, '#111', 'normal'),
    serifTitle('Dissolved Mn', 1197, 364, '#1fae5a', 'bold'),
    serifTitle('nM', 1352, 374, '#111', 'normal')
  ],
  grid: grids,
  xAxis: xAxes,
  yAxis: yAxes,
  series: [
    bandSeries(0, panelABands, velocityLevels),
    contourSeries(0, panelAContours),
    labelSeries(0, panelALabels, 20),
    bandSeries(1, panelBBands, velocityLevels),
    contourSeries(1, panelBContours),
    labelSeries(1, panelBLabels, 20),
    bandSeries(2, panelCBands, mnLevels),
    contourSeries(2, panelCContours),
    labelSeries(2, panelCLabels, 19),
    stationSeries(2, panelCStations),
    bandSeries(3, panelDBands, mnLevels),
    stationSeries(3, panelDStations),
    colorbarSeries(8, velocityLevels, -0.25, 0.25),
    colorbarSeries(9, mnLevels, 0, 15)
  ]
});
</script>
</body>
</html>
